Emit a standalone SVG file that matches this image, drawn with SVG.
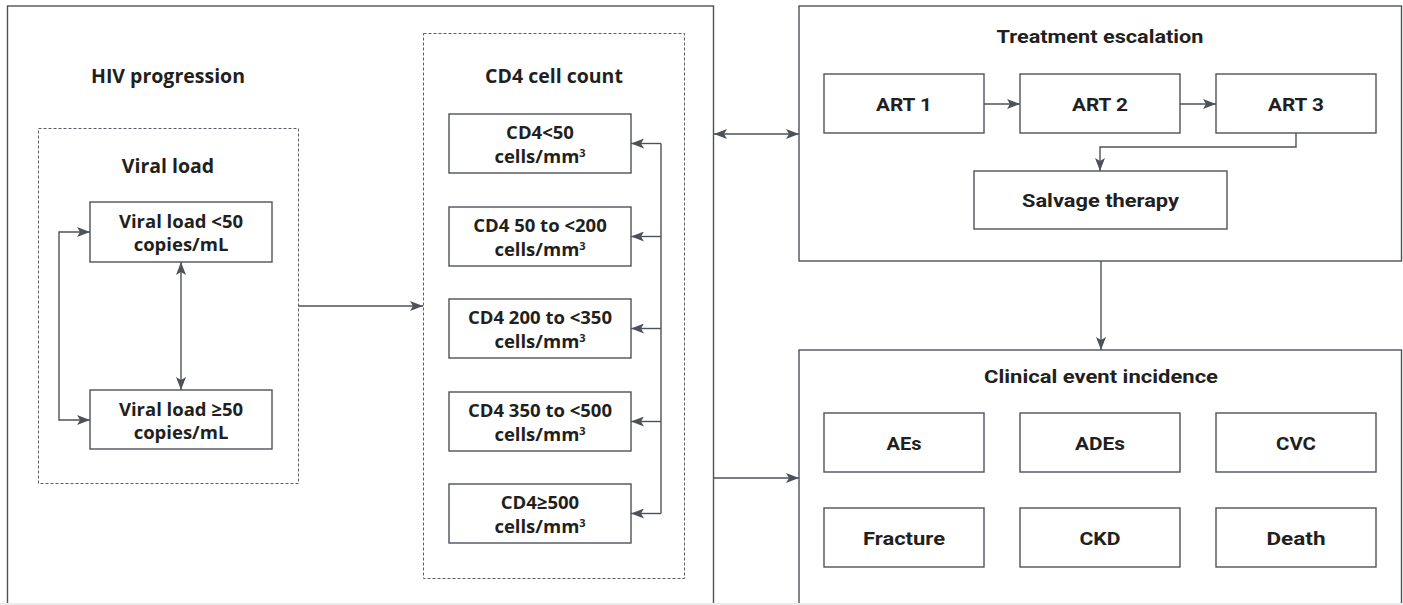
<svg xmlns="http://www.w3.org/2000/svg" width="1403" height="605" viewBox="0 0 1403 605">
<style>
.frame{fill:none;stroke:#4d525a;stroke-width:1.4}
.dash{fill:none;stroke:#5a5e66;stroke-width:1;stroke-dasharray:3 2}
.box{fill:#ffffff;stroke:#4d525a;stroke-width:1.4}
.conn{fill:none;stroke:#4d525a;stroke-width:1.4}
.t{font-family:"Open Sans","Noto Sans","Liberation Sans",sans-serif;font-weight:700;fill:#231f20;text-anchor:middle}
.tl{font-size:19.5px}
.tb{font-size:18.5px}
.c{font-family:Roboto,"Liberation Sans",sans-serif;font-weight:700;fill:#231f20;text-anchor:middle;font-size:19px}
.sup{font-size:11px}
</style>
<defs>
<marker id="ah" viewBox="0 0 13 10" refX="13" refY="5" markerWidth="13" markerHeight="10" markerUnits="userSpaceOnUse" orient="auto-start-reverse">
<path d="M0,0 L13,5 L0,10 L3,5 Z" fill="#4d525a"/>
</marker>
</defs>
<rect x="0" y="0" width="1403" height="605" fill="#ffffff"/>

<g id="hiv-progression">
<rect class="frame" x="7.5" y="6" width="706" height="620"/>
<text class="t tl" x="168" y="83">HIV progression</text>
</g>

<g id="viral-load-group">
<rect class="dash" x="38.5" y="128.5" width="260" height="355"/>
<text class="t tl" x="168" y="173">Viral load</text>
</g>
<g id="vl-lt50">
<rect class="box" x="90" y="202" width="182" height="60"/>
<text class="t tb" x="181" y="228">Viral load &lt;50</text>
<text class="t tb" x="181" y="251">copies/mL</text>
</g>
<g id="vl-ge50">
<rect class="box" x="90" y="390" width="182" height="59"/>
<text class="t tb" x="181" y="416">Viral load ≥50</text>
<text class="t tb" x="181" y="439">copies/mL</text>
</g>

<g id="cd4-group">
<rect class="dash" x="423.5" y="33.5" width="261" height="545"/>
<text class="t tl" x="554" y="83">CD4 cell count</text>
</g>
<g id="cd4-lt50">
<rect class="box" x="449" y="114" width="182" height="59"/>
<text class="t tb" x="540" y="139">CD4&lt;50</text>
<text class="t tb" x="540" y="163">cells/mm<tspan class="sup" dy="-6">3</tspan></text>
</g>
<g id="cd4-50-200">
<rect class="box" x="449" y="207" width="182" height="59"/>
<text class="t tb" x="540" y="232">CD4 50 to &lt;200</text>
<text class="t tb" x="540" y="256">cells/mm<tspan class="sup" dy="-6">3</tspan></text>
</g>
<g id="cd4-200-350">
<rect class="box" x="449" y="299" width="182" height="59"/>
<text class="t tb" x="540" y="324">CD4 200 to &lt;350</text>
<text class="t tb" x="540" y="348">cells/mm<tspan class="sup" dy="-6">3</tspan></text>
</g>
<g id="cd4-350-500">
<rect class="box" x="449" y="392" width="182" height="59"/>
<text class="t tb" x="540" y="417">CD4 350 to &lt;500</text>
<text class="t tb" x="540" y="441">cells/mm<tspan class="sup" dy="-6">3</tspan></text>
</g>
<g id="cd4-ge500">
<rect class="box" x="449" y="484" width="182" height="59"/>
<text class="t tb" x="540" y="509">CD4≥500</text>
<text class="t tb" x="540" y="533">cells/mm<tspan class="sup" dy="-6">3</tspan></text>
</g>

<g id="treatment-escalation">
<rect class="frame" x="799" y="6" width="602.5" height="255"/>
<text class="c" x="1100" y="43" textLength="207" lengthAdjust="spacingAndGlyphs">Treatment escalation</text>
</g>
<g id="art1">
<rect class="box" x="824" y="74" width="160" height="59"/>
<text class="c" x="904" y="111" textLength="56" lengthAdjust="spacingAndGlyphs">ART 1</text>
</g>
<g id="art2">
<rect class="box" x="1020" y="74" width="160" height="59"/>
<text class="c" x="1100" y="111" textLength="56" lengthAdjust="spacingAndGlyphs">ART 2</text>
</g>
<g id="art3">
<rect class="box" x="1216" y="74" width="160" height="59"/>
<text class="c" x="1296" y="111" textLength="56" lengthAdjust="spacingAndGlyphs">ART 3</text>
</g>
<g id="salvage">
<rect class="box" x="974" y="171" width="253" height="58"/>
<text class="c" x="1100.5" y="207" textLength="157" lengthAdjust="spacingAndGlyphs">Salvage therapy</text>
</g>

<g id="clinical-events">
<rect class="frame" x="799" y="350" width="602.5" height="280"/>
<text class="c" x="1101" y="383" textLength="234" lengthAdjust="spacingAndGlyphs">Clinical event incidence</text>
</g>
<g id="aes">
<rect class="box" x="824" y="413" width="160" height="59"/>
<text class="c" x="904" y="450" textLength="35" lengthAdjust="spacingAndGlyphs">AEs</text>
</g>
<g id="ades">
<rect class="box" x="1020" y="413" width="160" height="59"/>
<text class="c" x="1100" y="450" textLength="50" lengthAdjust="spacingAndGlyphs">ADEs</text>
</g>
<g id="cvc">
<rect class="box" x="1216" y="413" width="160" height="59"/>
<text class="c" x="1296" y="450" textLength="40" lengthAdjust="spacingAndGlyphs">CVC</text>
</g>
<g id="fracture">
<rect class="box" x="824" y="508" width="160" height="59"/>
<text class="c" x="904" y="545" textLength="82" lengthAdjust="spacingAndGlyphs">Fracture</text>
</g>
<g id="ckd">
<rect class="box" x="1020" y="508" width="160" height="59"/>
<text class="c" x="1100" y="545" textLength="41" lengthAdjust="spacingAndGlyphs">CKD</text>
</g>
<g id="death">
<rect class="box" x="1216" y="508" width="160" height="59"/>
<text class="c" x="1296" y="545" textLength="59" lengthAdjust="spacingAndGlyphs">Death</text>
</g>

<g id="connectors">
<path class="conn" d="M90,232 H59 V420 H90" marker-start="url(#ah)" marker-end="url(#ah)"/>
<path class="conn" d="M181,262 V390" marker-start="url(#ah)" marker-end="url(#ah)"/>
<path class="conn" d="M298.5,306 H423" marker-end="url(#ah)"/>
<path class="conn" d="M661,143.5 V513.5"/>
<path class="conn" d="M661,143.5 H631" marker-end="url(#ah)"/>
<path class="conn" d="M661,236.5 H631" marker-end="url(#ah)"/>
<path class="conn" d="M661,328.5 H631" marker-end="url(#ah)"/>
<path class="conn" d="M661,421.5 H631" marker-end="url(#ah)"/>
<path class="conn" d="M661,513.5 H631" marker-end="url(#ah)"/>
<path class="conn" d="M714,134 H799" marker-start="url(#ah)" marker-end="url(#ah)"/>
<path class="conn" d="M714,478 H799" marker-end="url(#ah)"/>
<path class="conn" d="M984,104 H1020" marker-end="url(#ah)"/>
<path class="conn" d="M1180,104 H1216" marker-end="url(#ah)"/>
<path class="conn" d="M1296,133 V147 H1100 V171" marker-end="url(#ah)"/>
<path class="conn" d="M1101,261 V350" marker-end="url(#ah)"/>
</g>
<rect x="0" y="603" width="1403" height="2" fill="#ebebeb"/>
</svg>
